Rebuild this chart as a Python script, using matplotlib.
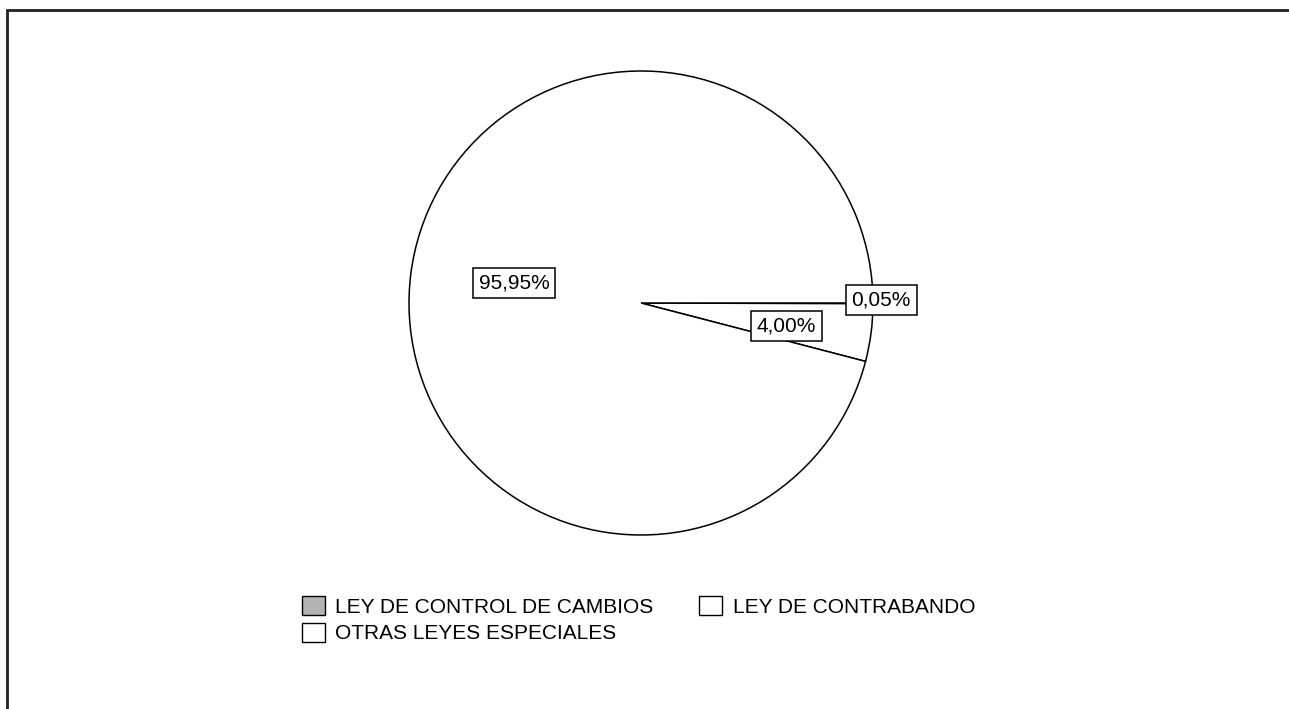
import numpy as np
import matplotlib.pyplot as plt
from matplotlib.patches import Rectangle, Patch

plt.rcParams['font.family'] = ['Liberation Sans', 'DejaVu Sans']

# data
categories = ['LEY DE CONTROL DE CAMBIOS', 'LEY DE CONTRABANDO', 'OTRAS LEYES ESPECIALES']
shares = [0.05, 4.00, 95.95]
labels = ['0,05%', '4,00%', '95,95%']
colors = ['#b3b3b3', 'white', 'white']

W, H = 1289, 709
fig = plt.figure(figsize=(W / 100, H / 100), dpi=100)

# outer frame (only top/left visible, rest runs off the canvas)
fig.patches.append(Rectangle((7 / W, -0.1), 1.2, 1 - 10 / H + 0.1,
                             transform=fig.transFigure, fill=False,
                             edgecolor='#222222', linewidth=2))

cx, cy, r = 641, 303, 232
ax = fig.add_axes([(cx - r) / W, (H - cy - r) / H, 2 * r / W, 2 * r / H])
wedges, _ = ax.pie(shares, colors=colors, startangle=0, counterclock=False,
                   wedgeprops=dict(edgecolor='black', linewidth=1.1))
ax.set_xlim(-1, 1)
ax.set_ylim(-1, 1)
ax.axis('off')

# label distance from centre and angle nudge for each slice
dists = [1.035, 0.633, 0.554]
nudges = [0.8, -1.6, -1.7]
for w, lab, d, n in zip(wedges, labels, dists, nudges):
    ang = np.deg2rad((w.theta1 + w.theta2) / 2 + n)
    ax.text(d * np.cos(ang), d * np.sin(ang), lab, ha='center', va='center',
            fontsize=15, zorder=5, clip_on=False,
            bbox=dict(boxstyle='square,pad=0.28', fc='white', ec='black', lw=1.1))

handles = [Patch(facecolor=c, edgecolor='black', linewidth=1) for c in colors]
order = [0, 2, 1]
fig.legend([handles[i] for i in order], [categories[i] for i in order],
           ncol=2, frameon=False, fontsize=15, loc='upper left',
           bbox_to_anchor=(302 / W, 1 - 596 / H), handlelength=1.1,
           handleheight=1.05, handletextpad=0.5, columnspacing=2.2,
           labelspacing=0.28, borderaxespad=0, borderpad=0)

fig.savefig('out.png', dpi=100, facecolor='white')
